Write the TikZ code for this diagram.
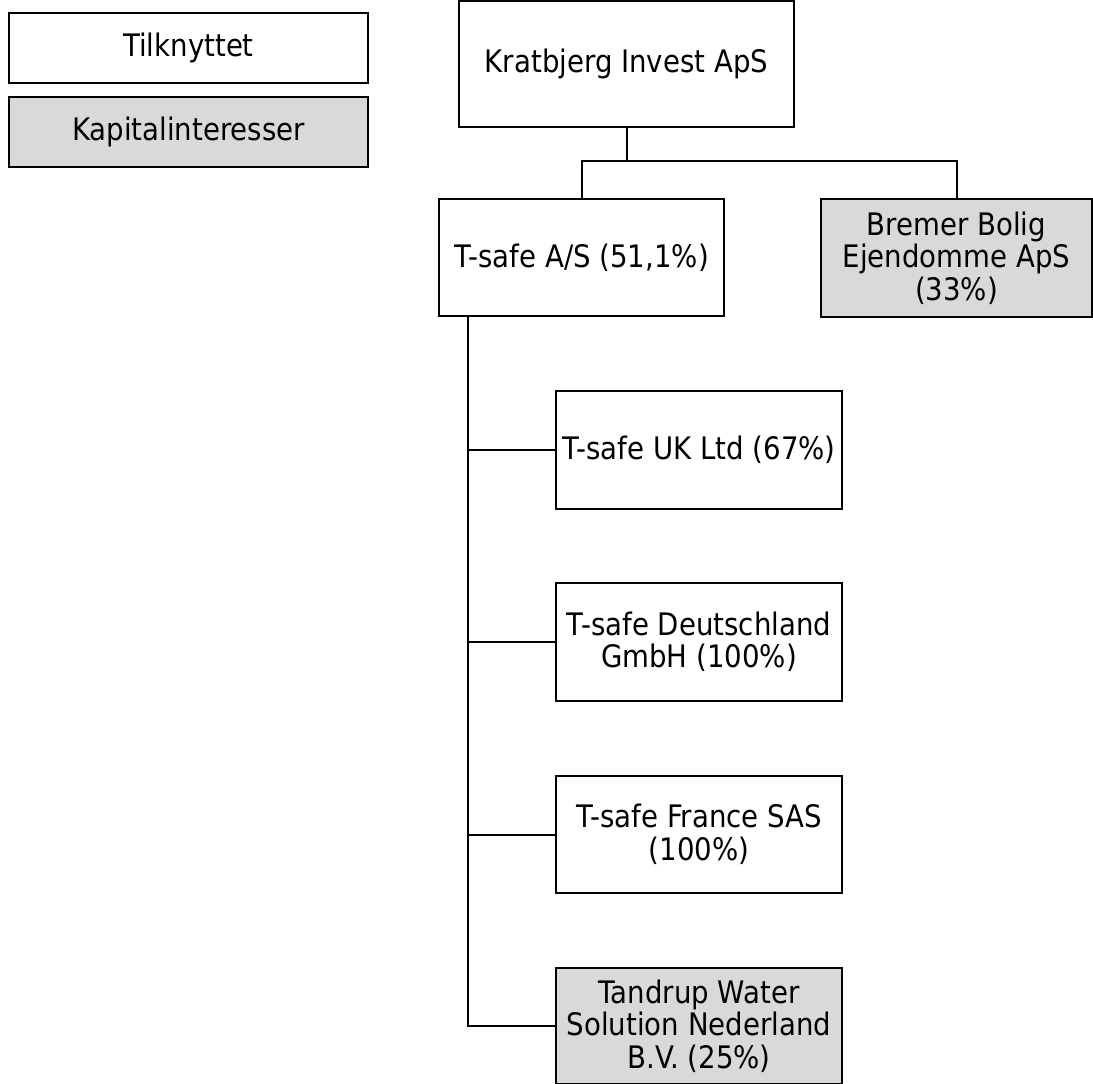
\documentclass[tikz,border=0pt]{standalone}
\usepackage{fontspec}
\setmainfont{DejaVu Sans}[FakeStretch=0.89]
\begin{document}
\begin{tikzpicture}[x=1pt,y=-1pt,
  box/.style={draw=black,line width=2pt,fill=white,align=center,inner sep=0pt,
    font=\fontsize{31}{32.5}\selectfont},
  grey/.style={box,fill=black!15},
  conn/.style={draw=black,line width=2pt}]
\useasboundingbox (0,0) rectangle (1093,1084);
\node[box,minimum width=359pt,minimum height=70pt] (tilk) at (188.5,48) {Tilknyttet};
\node[grey,minimum width=359pt,minimum height=70pt] (kap) at (188.5,132) {Kapitalinteresser};
\node[box,minimum width=335pt,minimum height=126pt] (krat) at (626.5,64) {Kratbjerg Invest ApS};
\node[box,minimum width=285pt,minimum height=117pt] (tsafe) at (581.5,257.5) {T-safe A/S (51,1\%)};
\node[grey,minimum width=271pt,minimum height=118pt] (bremer) at (956.5,258) {Bremer Bolig\\Ejendomme ApS\\(33\%)};
\node[box,minimum width=286pt,minimum height=118pt] (uk) at (699,450) {T-safe UK Ltd (67\%)};
\node[box,minimum width=286pt,minimum height=118pt] (de) at (699,642) {T-safe Deutschland\\GmbH (100\%)};
\node[box,minimum width=286pt,minimum height=117pt] (fr) at (699,834.5) {T-safe France SAS\\(100\%)};
\node[grey,minimum width=286pt,minimum height=116pt] (tan) at (699,1026) {Tandrup Water\\Solution Nederland\\B.V. (25\%)};
\coordinate (j) at (626.5,161);
\coordinate (tr) at (468,316);
\draw[conn] (krat.south) -- (j);
\draw[conn] (tsafe.north) |- (j);
\draw[conn] (j) -| (bremer.north);
\draw[conn] (tr) |- (tan.west);
\draw[conn] (tr |- uk.west) -- (uk.west);
\draw[conn] (tr |- de.west) -- (de.west);
\draw[conn] (tr |- fr.west) -- (fr.west);
\end{tikzpicture}
\end{document}
